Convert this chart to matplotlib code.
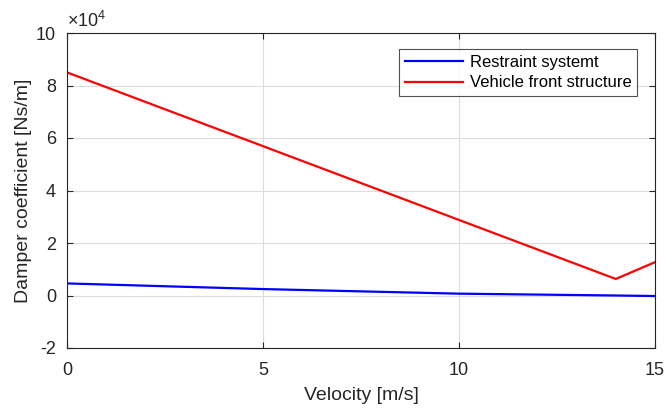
import matplotlib
matplotlib.use("Agg")
import matplotlib.pyplot as plt
import numpy as np

plt.rcParams['font.family'] = ['Liberation Sans', 'DejaVu Sans']
plt.rcParams['mathtext.fontset'] = 'custom'
plt.rcParams['mathtext.rm'] = 'Liberation Sans'
plt.rcParams['mathtext.it'] = 'Liberation Sans'

velocity_blue = [0, 5, 10, 14, 15]
restraint = [4600, 2450, 700, 0, -200]
velocity_red = [0, 14, 15]
front = [85000, 6300, 12700]

xticks = [0, 5, 10, 15]
yticks = [-2, 0, 2, 4, 6, 8, 10]

fig = plt.figure(figsize=(6.67, 4.12), dpi=100)
ax = fig.add_axes([67/667, 1-348/412, (655-67)/667, (348-33)/412])

ax.plot(velocity_blue, np.array(restraint) / 1e4, color='#0000ff', lw=1.6, label='Restraint systemt')
ax.plot(velocity_red, np.array(front) / 1e4, color='#ff0000', lw=1.6, label='Vehicle front structure')

ax.set_xlim(0, 15)
ax.set_ylim(-2, 10)
ax.set_xticks(xticks)
ax.set_yticks(yticks)
ax.set_yticklabels([str(t) for t in yticks])
ax.grid(True, color='#dcdcdc', lw=0.8)
ax.set_axisbelow(True)
ax.tick_params(direction='in', top=True, right=True, labelsize=13, colors='#262626', length=4)
ax.tick_params(axis='x', pad=10)
ax.tick_params(axis='y', pad=8)
for s in ax.spines.values():
    s.set_color('#262626')
    s.set_linewidth(0.8)
ax.set_xlabel('Velocity [m/s]', fontsize=14, color='#262626', labelpad=6)
ax.set_ylabel('Damper coefficient [Ns/m]', fontsize=14, color='#262626', labelpad=3)
ax.text(0.0, 1.005, r'$\times10^{4}$', transform=ax.transAxes, fontsize=13, color='#262626',
        ha='left', va='bottom')

leg = ax.legend(loc='upper right', bbox_to_anchor=(0.97, 0.95), fontsize=12, frameon=True,
                fancybox=False, edgecolor='#262626', handlelength=3.5, borderpad=0.35,
                labelspacing=0.35, handletextpad=0.4, borderaxespad=0)
leg.get_frame().set_linewidth(0.8)

fig.savefig('out.png', dpi=100)
